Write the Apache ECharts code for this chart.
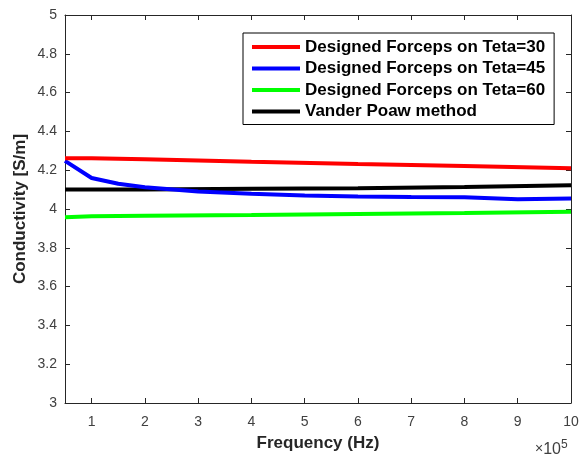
<!DOCTYPE html>
<html><head><meta charset="utf-8">
<script src="https://cdn.jsdelivr.net/npm/echarts@6/dist/echarts.min.js"></script>
<style>html,body{margin:0;padding:0;background:#fff}#c{width:583px;height:454px}</style>
</head><body><div id="c"></div>
<script>
const seriesNames = ['Designed Forceps on Teta=30','Designed Forceps on Teta=45','Designed Forceps on Teta=60','Vander Poaw method'];
const seriesColors = ['#ff0000','#0000ff','#00ff00','#000000'];
const freqRed = [0.5,1,2,4,6,8,10];
const valRed = [4.262,4.262,4.256,4.243,4.232,4.222,4.21];
const freqBlue = [0.5,1,1.5,2,3,4,5,6,7,8,9,10];
const valBlue = [4.248,4.16,4.13,4.112,4.09,4.078,4.07,4.065,4.062,4.06,4.05,4.054];
const freqGreen = [0.5,1,2,4,6,8,10];
const valGreen = [3.958,3.962,3.965,3.969,3.974,3.979,3.986];
const freqBlack = [0.5,2,4,6,8,10];
const valBlack = [4.1,4.1,4.104,4.107,4.113,4.122];
const xTicks = [1,2,3,4,5,6,7,8,9,10];
const xLabelText = 'Frequency (Hz)';
const yLabelText = 'Conductivity [S/m]';

const pairs = (xs, ys) => xs.map((x,i)=>[x,ys[i]]);
const allData = [pairs(freqRed,valRed),pairs(freqBlue,valBlue),pairs(freqGreen,valGreen),pairs(freqBlack,valBlack)];
const axCol = '#262626';
const lblCol = '#404040';
const baseX = {type:'value',min:0.5,max:10,gridIndex:0,
  axisLine:{show:true,onZero:false,lineStyle:{color:axCol,width:1}},
  splitLine:{show:false}};
const baseY = {type:'value',min:3,max:5,interval:0.2,
  axisLine:{show:true,onZero:false,lineStyle:{color:axCol,width:1}},
  splitLine:{show:false}};
const chart = echarts.init(document.getElementById('c'));
chart.setOption({
  animation:false,
  grid:{left:65,right:12,top:15,bottom:51,containLabel:false},
  xAxis:[
    Object.assign({},baseX,{position:'bottom',
      axisTick:{show:true,inside:true,length:5,customValues:xTicks,lineStyle:{color:axCol}},
      axisLabel:{show:true,customValues:xTicks,color:lblCol,fontFamily:'Liberation Sans, Arial',fontSize:14,margin:12}}),
    Object.assign({},baseX,{position:'top',
      axisTick:{show:true,inside:true,length:5,customValues:xTicks,lineStyle:{color:axCol}},
      axisLabel:{show:false}})
  ],
  yAxis:[
    Object.assign({},baseY,{position:'left',
      axisTick:{show:true,inside:true,length:5,lineStyle:{color:axCol}},
      axisLabel:{show:true,color:lblCol,fontFamily:'Liberation Sans, Arial',fontSize:14,margin:8,
        formatter:v=>String(Math.round(v*10)/10)}}),
    Object.assign({},baseY,{position:'right',
      axisTick:{show:true,inside:true,length:5,lineStyle:{color:axCol}},
      axisLabel:{show:false}})
  ],
  legend:{orient:'vertical',left:243,top:33,
    padding:[5,9,4,9],itemGap:3.5,itemWidth:48,itemHeight:4,
    borderColor:'#000',borderWidth:1,backgroundColor:'#fff',
    icon:'rect',
    textStyle:{fontFamily:'Liberation Sans, Arial',fontWeight:'bold',fontSize:17,lineHeight:18,color:'#000',padding:[0,0,0,0]},
    data:seriesNames},
  series:seriesNames.map((n,i)=>({name:n,type:'line',data:allData[i],showSymbol:false,symbol:'none',
    lineStyle:{color:seriesColors[i],width:4},itemStyle:{color:seriesColors[i]},z:10-i})),
  graphic:[
    {type:'text',x:318,y:443,style:{text:xLabelText,font:'bold 17px "Liberation Sans", Arial',fill:'#262626',align:'center',verticalAlign:'middle'}},
    {type:'text',x:20,y:209,rotation:Math.PI/2,style:{text:yLabelText,font:'bold 17px "Liberation Sans", Arial',fill:'#262626',align:'center',verticalAlign:'middle'}},
    {type:'text',x:535,y:439,style:{rich:{a:{font:'14px "Liberation Sans", Arial',fill:'#404040'},b:{font:'16px "Liberation Sans", Arial',fill:'#404040'},s:{font:'12px "Liberation Sans", Arial',fill:'#404040',verticalAlign:'top',padding:[0,0,9,0]}},text:'{a|×}{b|10}{s|5}'}}
  ]
});
</script></body></html>
